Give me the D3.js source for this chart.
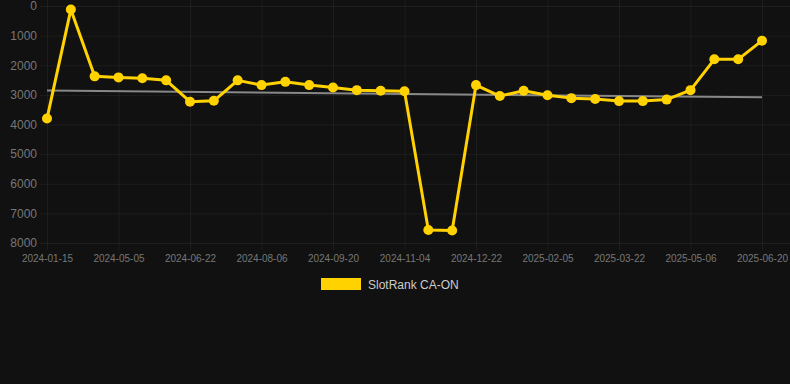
<!DOCTYPE html>
<html>
<head>
<meta charset="utf-8">
<script src="https://cdn.jsdelivr.net/npm/d3@7"></script>
<style>
  html, body { margin: 0; padding: 0; background: #111111; }
  svg { display: block; font-family: "Liberation Sans", Arial, sans-serif; }
</style>
</head>
<body>
<svg id="chart"></svg>
<script>
const dates = [
  "2024-01-15", "2024-04-05", "2024-04-20", "2024-05-05", "2024-05-20", "2024-06-05",
  "2024-06-22", "2024-07-07", "2024-07-22", "2024-08-06", "2024-08-21", "2024-09-05",
  "2024-09-20", "2024-10-05", "2024-10-20", "2024-11-04", "2024-11-19", "2024-12-04",
  "2024-12-22", "2025-01-06", "2025-01-21", "2025-02-05", "2025-02-20", "2025-03-07",
  "2025-03-22", "2025-04-06", "2025-04-21", "2025-05-06", "2025-05-21", "2025-06-05",
  "2025-06-20"
];
const ranks = [
  3800, 120, 2375, 2410, 2440, 2510,
  3230, 3200, 2510, 2670, 2560, 2670,
  2750, 2840, 2860, 2880, 7560, 7580,
  2670, 3040, 2860, 3010, 3110, 3140,
  3210, 3210, 3160, 2840, 1800, 1800,
  1170
];
const yTicks = [0, 1000, 2000, 3000, 4000, 5000, 6000, 7000, 8000];
const seriesName = "SlotRank CA-ON";

const width = 790;
const height = 384;
const margin = { top: 6, right: 28, bottom: 141, left: 47 };
const lineColor = "#FFD200";
const gridColor = "rgba(255,255,255,0.05)";

const svg = d3.select("#chart").attr("width", width).attr("height", height);

const x = d3.scalePoint()
  .domain(dates)
  .range([margin.left, width - margin.right]);

const y = d3.scaleLinear()
  .domain([0, 8000])
  .range([margin.top, height - margin.bottom]);

const shownDates = dates.filter((_, i) => i % 3 === 0);

// grid
svg.append("g")
  .selectAll("line")
  .data(yTicks)
  .join("line")
  .attr("x1", margin.left - 7)
  .attr("x2", width)
  .attr("y1", d => y(d) + 0.5)
  .attr("y2", d => y(d) + 0.5)
  .attr("stroke", gridColor);

svg.append("g")
  .selectAll("line")
  .data(shownDates)
  .join("line")
  .attr("x1", d => x(d) + 0.5)
  .attr("x2", d => x(d) + 0.5)
  .attr("y1", 0)
  .attr("y2", height - margin.bottom + 7)
  .attr("stroke", gridColor);

// y axis labels
const yAxis = svg.append("g")
  .attr("transform", `translate(${margin.left - 10},0)`)
  .call(d3.axisLeft(y).tickValues(yTicks).tickFormat(d3.format("d")).tickSize(0).tickPadding(0));
yAxis.select(".domain").remove();
yAxis.selectAll("text")
  .attr("fill", "#777")
  .attr("font-size", 12)
  .attr("font-family", "Liberation Sans, Arial, sans-serif");

// x axis labels
const xAxis = svg.append("g")
  .attr("transform", `translate(0,${height - margin.bottom + 12})`)
  .call(d3.axisBottom(x).tickValues(shownDates).tickSize(0).tickPadding(0));
xAxis.select(".domain").remove();
xAxis.selectAll("text")
  .attr("fill", "#777")
  .attr("font-size", 10)
  .attr("font-family", "Liberation Sans, Arial, sans-serif");

// trend line (least squares)
const idx = dates.map((_, i) => i);
const mx = d3.mean(idx);
const my = d3.mean(ranks);
const slope = d3.sum(idx, i => (i - mx) * (ranks[i] - my)) / d3.sum(idx, i => (i - mx) ** 2);
const icpt = my - slope * mx;
const trend = [0, dates.length - 1].map(i => [dates[i], icpt + slope * i]);

svg.append("path")
  .datum(trend)
  .attr("fill", "none")
  .attr("stroke", "#888")
  .attr("stroke-width", 2)
  .attr("d", d3.line().x(d => x(d[0])).y(d => y(d[1])));

// series
svg.append("path")
  .datum(ranks)
  .attr("fill", "none")
  .attr("stroke", lineColor)
  .attr("stroke-width", 3)
  .attr("stroke-linejoin", "round")
  .attr("d", d3.line().x((_, i) => x(dates[i])).y(d => y(d)));

svg.append("g")
  .selectAll("circle")
  .data(ranks)
  .join("circle")
  .attr("cx", (_, i) => x(dates[i]))
  .attr("cy", d => y(d))
  .attr("r", 5)
  .attr("fill", lineColor);

// legend
const legend = svg.append("g").attr("transform", "translate(321,278)");
legend.append("rect")
  .attr("width", 40)
  .attr("height", 12)
  .attr("fill", lineColor);
legend.append("text")
  .attr("x", 47)
  .attr("y", 10.5)
  .attr("fill", "#ccc")
  .attr("font-size", 12)
  .text(seriesName);
</script>
</body>
</html>
